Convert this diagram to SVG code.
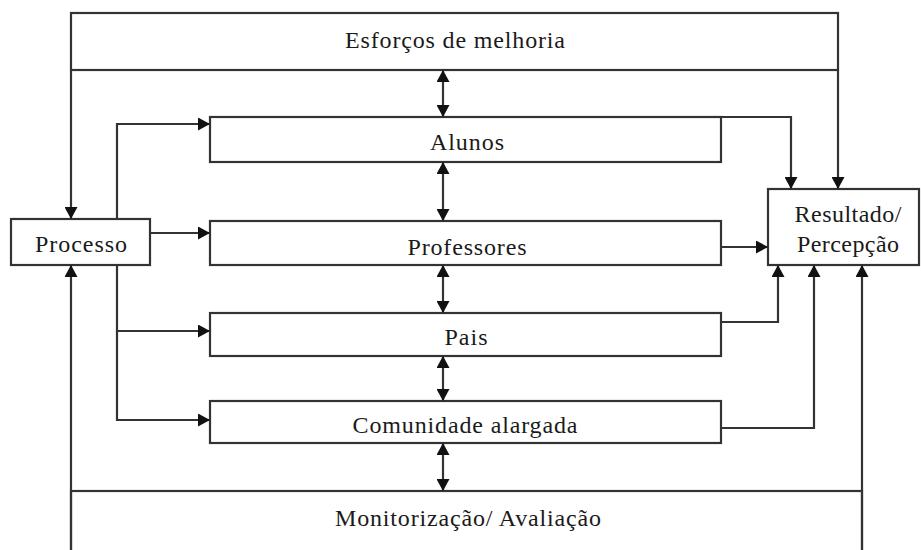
<svg xmlns="http://www.w3.org/2000/svg" width="921" height="550" viewBox="0 0 921 550">
<defs>
<style>
.box{fill:#ffffff;stroke:#333333;stroke-width:2.2}
.ln{fill:none;stroke:#333333;stroke-width:2.2}
.t{font-family:"Liberation Serif","Times New Roman",serif;font-size:24px;fill:#1a1a1a;text-anchor:middle}
</style>
<marker id="ah" viewBox="0 0 12 12" refX="12" refY="6" markerWidth="12" markerHeight="13" markerUnits="userSpaceOnUse" orient="auto-start-reverse" preserveAspectRatio="none">
<path d="M0,0 L12,6 L0,12 z" fill="#111111"/>
</marker>
</defs>
<rect width="921" height="550" fill="#ffffff"/>

<g id="esforcos">
<rect class="box" x="71" y="13" width="767" height="57"/>
<text class="t" x="455" y="48" textLength="220" lengthAdjust="spacing">Esforços de melhoria</text>
</g>

<g id="monitorizacao">
<rect class="box" x="71" y="491" width="791" height="80"/>
<text class="t" x="468" y="526" textLength="266" lengthAdjust="spacing">Monitorização/ Avaliação</text>
</g>

<g id="processo">
<rect class="box" x="11" y="219" width="139" height="46"/>
<text class="t" x="81" y="252" textLength="92" lengthAdjust="spacing">Processo</text>
</g>

<g id="alunos">
<rect class="box" x="210" y="117" width="511" height="45"/>
<text class="t" x="467" y="150" textLength="74" lengthAdjust="spacing">Alunos</text>
</g>

<g id="professores">
<rect class="box" x="210" y="221" width="511" height="44"/>
<text class="t" x="467" y="255" textLength="119" lengthAdjust="spacing">Professores</text>
</g>

<g id="pais">
<rect class="box" x="210" y="313" width="511" height="43"/>
<text class="t" x="466" y="345" textLength="43" lengthAdjust="spacing">Pais</text>
</g>

<g id="comunidade">
<rect class="box" x="210" y="401" width="511" height="42"/>
<text class="t" x="465" y="433" textLength="225" lengthAdjust="spacing">Comunidade alargada</text>
</g>

<g id="resultado">
<rect class="box" x="768" y="189" width="151" height="76"/>
<text class="t" x="848" y="222" textLength="107" lengthAdjust="spacing">Resultado/</text>
<text class="t" x="848" y="252" textLength="102" lengthAdjust="spacing">Percepção</text>
</g>

<g id="connectors">
<path class="ln" d="M71,70 V219" marker-end="url(#ah)"/>
<path class="ln" d="M838,70 V189" marker-end="url(#ah)"/>
<path class="ln" d="M71,550 V265" marker-end="url(#ah)"/>
<path class="ln" d="M862,550 V265" marker-end="url(#ah)"/>
<path class="ln" d="M117,219 V124 H210" marker-end="url(#ah)"/>
<path class="ln" d="M150,233 H210" marker-end="url(#ah)"/>
<path class="ln" d="M117,265 V331 H210" marker-end="url(#ah)"/>
<path class="ln" d="M117,331 V420 H210" marker-end="url(#ah)"/>
<path class="ln" d="M721,117 H791 V189" marker-end="url(#ah)"/>
<path class="ln" d="M721,247 H768" marker-end="url(#ah)"/>
<path class="ln" d="M721,322 H778 V265" marker-end="url(#ah)"/>
<path class="ln" d="M721,428 H814 V265" marker-end="url(#ah)"/>
<path class="ln" d="M443,70 V117" marker-start="url(#ah)" marker-end="url(#ah)"/>
<path class="ln" d="M443,162 V221" marker-start="url(#ah)" marker-end="url(#ah)"/>
<path class="ln" d="M443,265 V313" marker-start="url(#ah)" marker-end="url(#ah)"/>
<path class="ln" d="M443,356 V401" marker-start="url(#ah)" marker-end="url(#ah)"/>
<path class="ln" d="M443,443 V491" marker-start="url(#ah)" marker-end="url(#ah)"/>
</g>
</svg>
